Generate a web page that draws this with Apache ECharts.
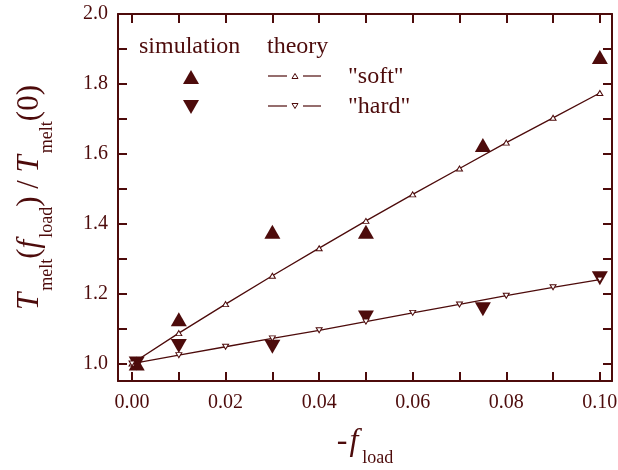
<!DOCTYPE html>
<html>
<head>
<meta charset="utf-8">
<script src="https://cdn.jsdelivr.net/npm/echarts@6/dist/echarts.min.js"></script>
<style>html,body{margin:0;padding:0;background:#fff}#c{width:618px;height:470px}</style>
</head>
<body>
<div id="c"></div>
<script>
// ---- data ----
var simX = [0.001, 0.01, 0.03, 0.05, 0.075, 0.1];
var simSoft = [1.0, 1.127, 1.377, 1.377, 1.625, 1.877];
var simHard = [1.0, 1.050, 1.048, 1.132, 1.155, 1.244];
var theoryX = [0, 0.01, 0.02, 0.03, 0.04, 0.05, 0.06, 0.07, 0.08, 0.09, 0.1];
var theorySoft = [1.0, 1.087, 1.170, 1.251, 1.330, 1.408, 1.484, 1.558, 1.632, 1.703, 1.774];
var theoryHard = [1.0, 1.024, 1.048, 1.072, 1.095, 1.120, 1.145, 1.169, 1.194, 1.218, 1.240];
var xTickValues = [0, 0.01, 0.02, 0.03, 0.04, 0.05, 0.06, 0.07, 0.08, 0.09, 0.1];
var xLabelValues = [0, 0.02, 0.04, 0.06, 0.08, 0.1];
var yTickValues = [1.0, 1.1, 1.2, 1.3, 1.4, 1.5, 1.6, 1.7, 1.8, 1.9, 2.0];
var yLabelValues = [1.0, 1.2, 1.4, 1.6, 1.8, 2.0];
var legendHeaders = ['simulation', 'theory'];
var legendNames = ['"soft"', '"hard"'];

var C = '#4d0b0b';
var FF = '"Liberation Serif", "Times New Roman", serif';

function zip(xs, ys) { return xs.map(function (x, i) { return [x, ys[i]]; }); }

var chart = echarts.init(document.getElementById('c'), null, {renderer: 'canvas'});

function axisCommon(pos, showLabel, ticks, labels, fmt, margin) {
  return {
    type: 'value', position: pos,
    axisLine: {show: true, onZero: false, lineStyle: {color: C, width: 2}},
    axisTick: {show: true, inside: true, length: 9, lineStyle: {color: C, width: 2}, customValues: ticks},
    axisLabel: {show: showLabel, color: C, fontFamily: FF, fontSize: 20, margin: margin,
      customValues: labels, formatter: fmt},
    splitLine: {show: false}
  };
}

var xFmt = function (v) { return v.toFixed(2); };
var yFmt = function (v) { return v.toFixed(1); };

var xb = axisCommon('bottom', true, xTickValues, xLabelValues, xFmt, 12);
xb.min = -0.003; xb.max = 0.1026;
xb.name = '{n|-}{i|f}{s|load}';
xb.nameLocation = 'middle';
xb.nameGap = 36;
xb.nameTextStyle = {
  rich: {
    n: {fontFamily: FF, fontSize: 32, color: C, lineHeight: 50, padding: [0, 2, 0, 0]},
    i: {fontFamily: FF, fontSize: 32, fontStyle: 'italic', color: C, lineHeight: 50, padding: [0, 4, 0, 0]},
    s: {fontFamily: FF, fontSize: 18, color: C, lineHeight: 18, verticalAlign: 'bottom'}
  }
};
var xt = axisCommon('top', false, xTickValues, xLabelValues, xFmt, 10);
xt.min = -0.003; xt.max = 0.1026;

var yl = axisCommon('left', true, yTickValues, yLabelValues, yFmt, 10);
yl.min = 0.95; yl.max = 2.0;
yl.name = '{i|T}{s|melt}{n|(}{i|f}{s|load}{n|) / }{i|T}{s|melt}{n|(0)}';
yl.nameLocation = 'middle';
yl.nameRotate = 90;
yl.nameGap = 62;
yl.nameTextStyle = {
  rich: {
    n: {fontFamily: FF, fontSize: 31, color: C, lineHeight: 52},
    i: {fontFamily: FF, fontSize: 31, fontStyle: 'italic', color: C, lineHeight: 52, padding: [0, 2, 0, 0]},
    s: {fontFamily: FF, fontSize: 18, color: C, lineHeight: 18, verticalAlign: 'bottom'}
  }
};
var yr = axisCommon('right', false, yTickValues, yLabelValues, yFmt, 10);
yr.min = 0.95; yr.max = 2.0;

var legendFont = '24px ' + FF;
function tri(cx, cy, w, h, down) {
  var pts = down ? [[cx - w / 2, cy - h / 2], [cx + w / 2, cy - h / 2], [cx, cy + h / 2]]
                 : [[cx - w / 2, cy + h / 2], [cx + w / 2, cy + h / 2], [cx, cy - h / 2]];
  return pts;
}
var graphics = [
  {type: 'text', x: 139, y: 47, style: {text: legendHeaders[0], font: legendFont, fill: C, verticalAlign: 'middle'}},
  {type: 'text', x: 267, y: 47, style: {text: legendHeaders[1], font: legendFont, fill: C, verticalAlign: 'middle'}},
  {type: 'text', x: 348, y: 77, style: {text: legendNames[0], font: legendFont, fill: C, verticalAlign: 'middle'}},
  {type: 'text', x: 348, y: 107, style: {text: legendNames[1], font: legendFont, fill: C, verticalAlign: 'middle'}},
  {type: 'polygon', shape: {points: tri(191, 77, 16, 14, false)}, style: {fill: C}},
  {type: 'polygon', shape: {points: tri(191, 107, 16, 14, true)}, style: {fill: C}},
  {type: 'line', shape: {x1: 268, y1: 76, x2: 287, y2: 76}, style: {stroke: C, lineWidth: 1.2}},
  {type: 'line', shape: {x1: 303, y1: 76, x2: 321, y2: 76}, style: {stroke: C, lineWidth: 1.2}},
  {type: 'polygon', shape: {points: tri(295, 76, 6, 5, false)}, style: {fill: '#fff', stroke: C, lineWidth: 1}},
  {type: 'line', shape: {x1: 268, y1: 106, x2: 287, y2: 106}, style: {stroke: C, lineWidth: 1.2}},
  {type: 'line', shape: {x1: 303, y1: 106, x2: 321, y2: 106}, style: {stroke: C, lineWidth: 1.2}},
  {type: 'polygon', shape: {points: tri(295, 106, 6, 5, true)}, style: {fill: '#fff', stroke: C, lineWidth: 1}}
];

chart.setOption({
  animation: false,
  backgroundColor: '#fff',
  grid: {left: 118, right: 6, top: 14, bottom: 89, containLabel: false, outerBoundsMode: 'none'},
  xAxis: [xb, xt],
  yAxis: [yl, yr],
  graphic: graphics,
  series: [
    {type: 'scatter', data: zip(simX, simSoft), symbol: 'triangle', symbolSize: [16, 14],
      itemStyle: {color: C, opacity: 1}, z: 2},
    {type: 'scatter', data: zip(simX, simHard), symbol: 'triangle', symbolRotate: 180, symbolSize: [16, 14],
      itemStyle: {color: C, opacity: 1}, z: 2},
    {type: 'line', data: zip(theoryX, theorySoft), symbol: 'triangle', symbolSize: [6, 5], showAllSymbol: true,
      lineStyle: {color: C, width: 1.3}, itemStyle: {color: '#fff', borderColor: C, borderWidth: 1}, z: 3},
    {type: 'line', data: zip(theoryX, theoryHard), symbol: 'triangle', symbolRotate: 180, symbolSize: [6, 5], showAllSymbol: true,
      lineStyle: {color: C, width: 1.3}, itemStyle: {color: '#fff', borderColor: C, borderWidth: 1}, z: 3}
  ]
});
</script>
</body>
</html>
